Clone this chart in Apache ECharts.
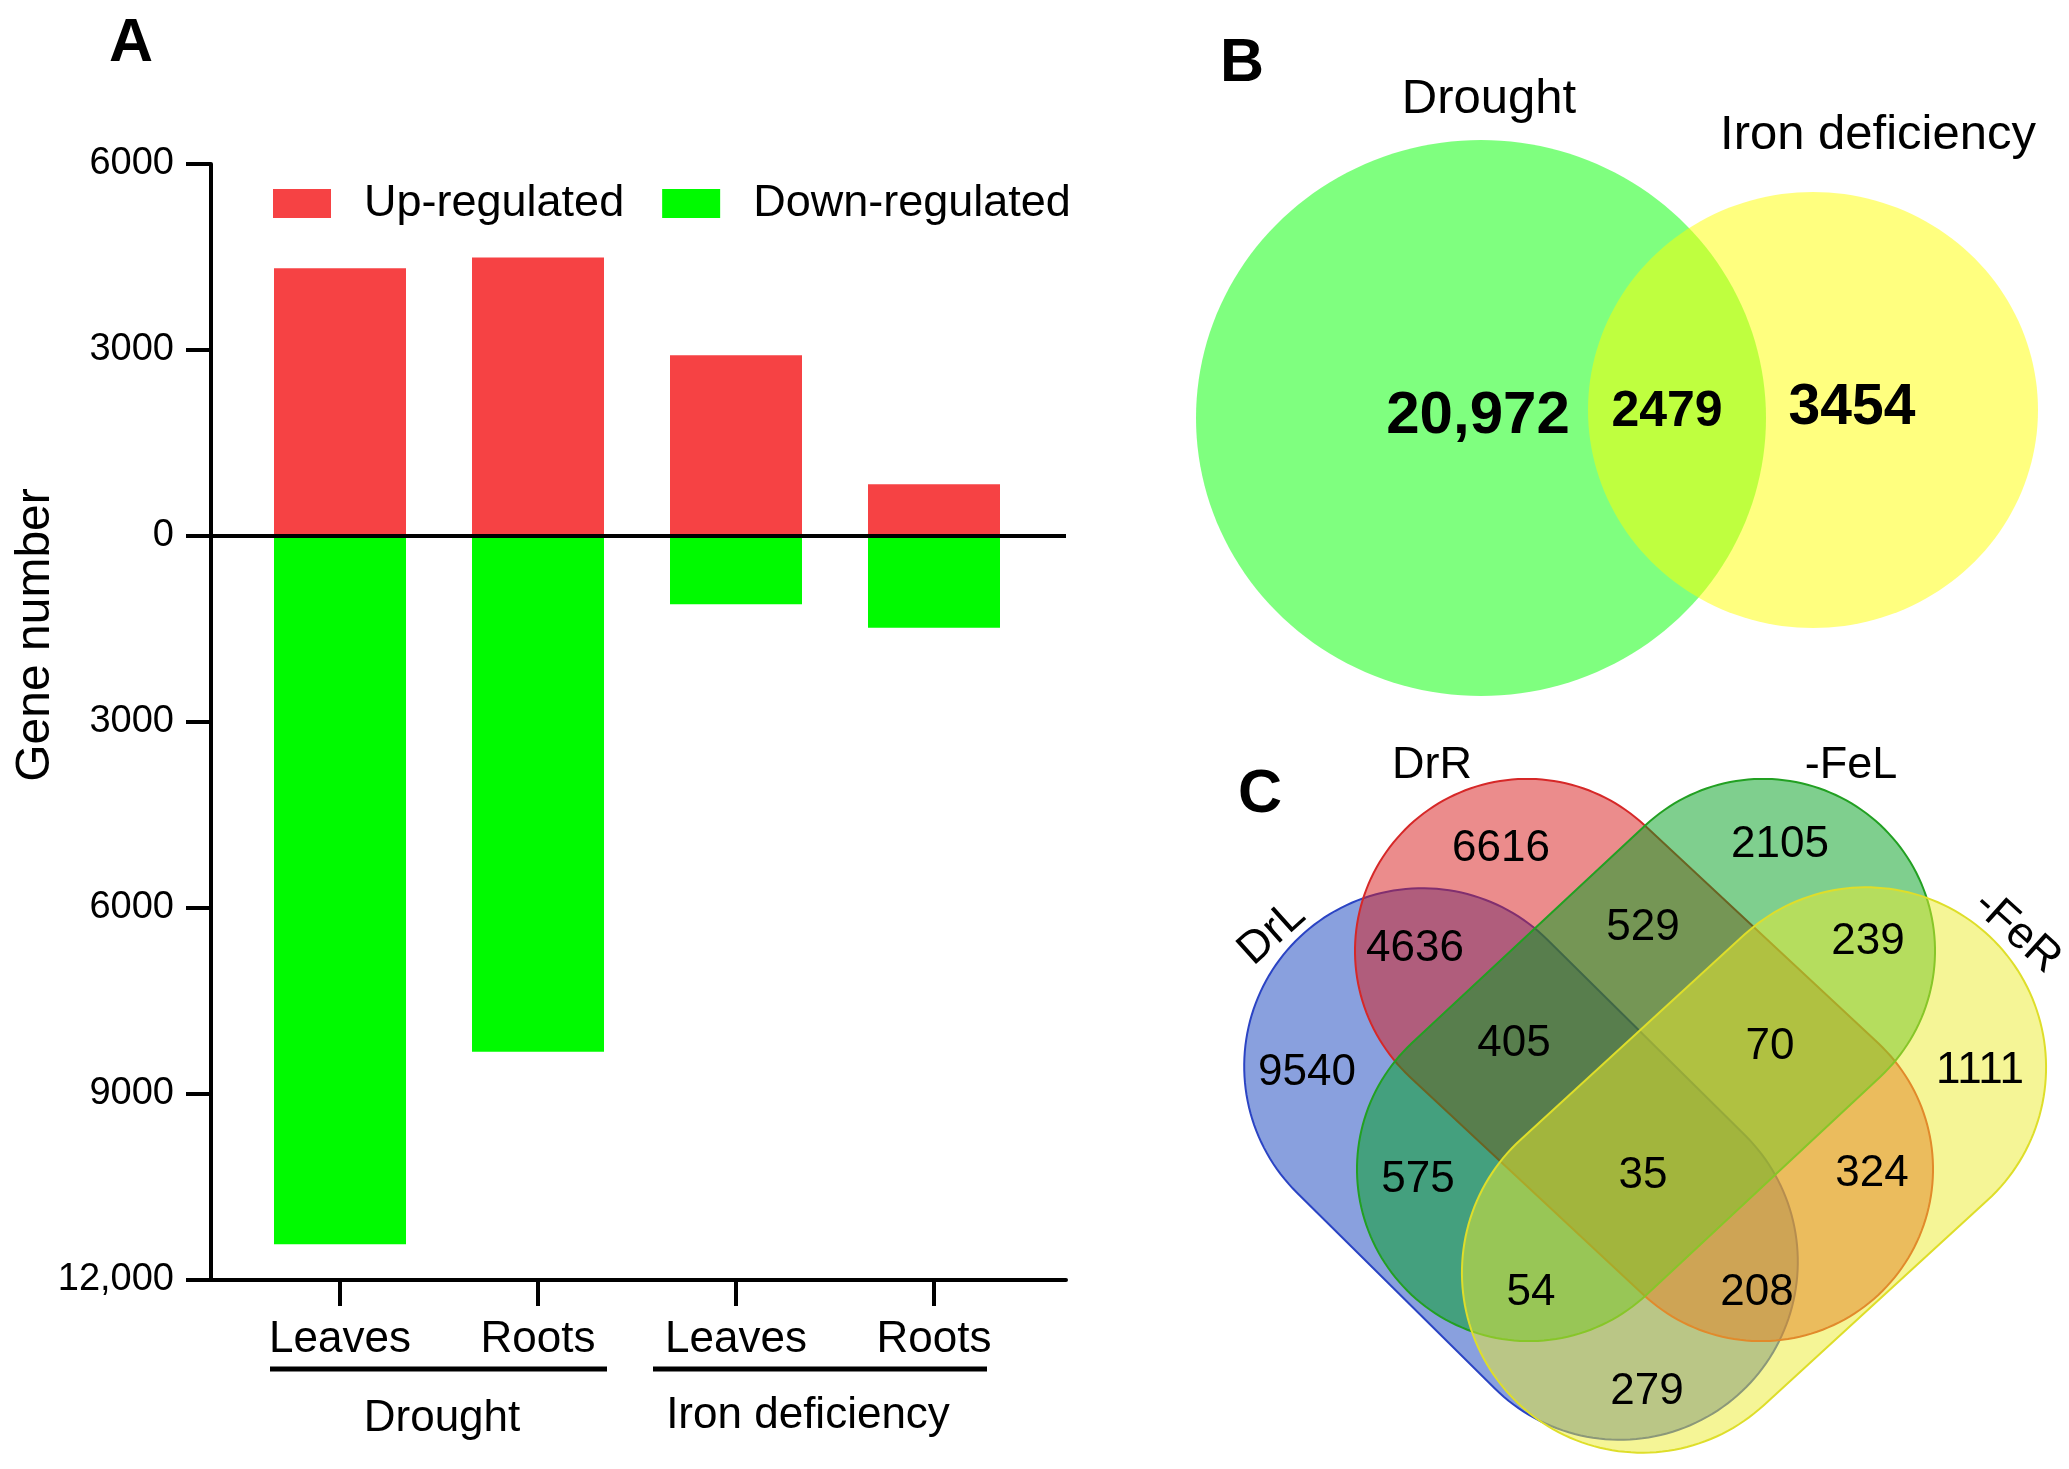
<!DOCTYPE html>
<html><head><meta charset="utf-8">
<script src="https://cdn.jsdelivr.net/npm/echarts@6/dist/echarts.min.js"></script>
<style>html,body{margin:0;padding:0;background:#fff}#c{width:2069px;height:1469px}</style>
</head><body><div id="c"></div>
<script>
// ---------------- data ----------------
const categories = ['Leaves', 'Roots', 'Leaves', 'Roots'];
const groups = ['Drought', 'Iron deficiency'];
const seriesNames = ['Up-regulated', 'Down-regulated'];
const upRegulated = [4320, 4490, 2915, 835];
const downRegulated = [-11425, -8320, -1100, -1480];
const yAxisName = 'Gene number';

const vennBSets = ['Drought', 'Iron deficiency'];
const vennBCounts = [20972, 2479, 3454];          // Drought only, both, Iron only

const vennCSets = ['DrL', 'DrR', '-FeL', '-FeR'];
const vennCCounts = [6616, 2105, 4636, 529, 239, 9540, 405, 70, 1111, 575, 35, 324, 54, 208, 279];

// ---------------- layout (positions / styles) ----------------
const FONT = "'Liberation Sans', Arial, Helvetica, sans-serif";
const vennBShapes = [
  { cx: 1481, cy: 418, rx: 285, ry: 278, fill: 'rgba(0,255,0,0.5)' },
  { cx: 1813, cy: 410, rx: 225, ry: 218, fill: 'rgba(255,255,0,0.5)' }
];
const vennBSetPos = [[1489, 99], [1878, 135]];
const vennBCountPos = [[1478, 416], [1667, 412], [1852, 408]];
const vennBCountSize = [60, 50, 57];

const vennCShapes = [
  { cx: 1521, cy: 1164, ang: 44.7, d: 139, r: 178, fill: 'rgba(20,65,190,0.5)', stroke: '#2b44c4' },
  { cx: 1644, cy: 1060, ang: 43, d: 160, r: 172, fill: 'rgba(215,25,25,0.5)', stroke: '#d62828' },
  { cx: 1646, cy: 1060, ang: 137, d: 160, r: 172, fill: 'rgba(0,160,30,0.5)', stroke: '#22a022' },
  { cx: 1754, cy: 1170, ang: 137.5, d: 152, r: 180, fill: 'rgba(235,235,45,0.5)', stroke: '#dede2a' }
];
const vennCSetPos = [[1272, 933, 42], [1432, 766, 0], [1851, 766, 0], [2017, 932, -42]];
const vennCCountPos = [[1501, 849], [1780, 845], [1415, 949], [1643, 928], [1868, 942],
  [1307, 1073], [1514, 1044], [1770, 1047], [1980, 1071], [1418, 1180], [1643, 1176],
  [1872, 1174], [1531, 1293], [1757, 1293], [1647, 1392]];

function fmt(n) { return Math.abs(n) >= 10000 ? Math.abs(n).toLocaleString('en-US') : String(Math.abs(n)); }

function ellipsePts(s, api) {
  const pts = [];
  for (let i = 0; i < 180; i++) {
    const t = i / 180 * Math.PI * 2;
    pts.push(api.coord([s.cx + s.rx * Math.cos(t), s.cy + s.ry * Math.sin(t)]));
  }
  return pts;
}
function stadiumPts(s, api) {
  const a = s.ang * Math.PI / 180;
  const ux = Math.cos(a), uy = Math.sin(a);
  const c1 = [s.cx - s.d * ux, s.cy - s.d * uy], c2 = [s.cx + s.d * ux, s.cy + s.d * uy];
  const pts = [];
  const N = 90;
  for (let i = 0; i <= N; i++) {
    const p = a - Math.PI / 2 + Math.PI * i / N;
    pts.push(api.coord([c2[0] + s.r * Math.cos(p), c2[1] + s.r * Math.sin(p)]));
  }
  for (let i = 0; i <= N; i++) {
    const p = a + Math.PI / 2 + Math.PI * i / N;
    pts.push(api.coord([c1[0] + s.r * Math.cos(p), c1[1] + s.r * Math.sin(p)]));
  }
  return pts;
}

const labelSeries = (name, data, label) => ({
  name, type: 'scatter', xAxisIndex: 2, yAxisIndex: 2, symbolSize: 0, silent: true, z: 10,
  itemStyle: { opacity: 1 }, data,
  label: Object.assign({ show: true, position: 'inside', color: '#000', opacity: 1, fontFamily: FONT,
    textBorderWidth: 0 }, label)
});

const chart = echarts.init(document.getElementById('c'), null, { renderer: 'canvas' });
const option = {
  backgroundColor: '#fff',
  animation: false,
  textStyle: { fontFamily: FONT },
  legend: {
    data: seriesNames, left: 268, top: 176, itemWidth: 58, itemHeight: 29, itemGap: 38,
    icon: 'rect', selectedMode: false,
    textStyle: { fontSize: 45, color: '#000', fontFamily: FONT, padding: [4, 0, 0, 28] }
  },
  grid: [
    { left: 211, top: 164, width: 855, height: 1116 },
    { left: 241, top: 164, width: 792, height: 1116 },
    { left: 0, top: 0, width: 2069, height: 1469 }
  ],
  xAxis: [
    { type: 'value', gridIndex: 0, min: 0, max: 1, position: 'bottom',
      axisLine: { show: true, onZero: false, lineStyle: { color: '#000', width: 4 } },
      axisTick: { show: false }, axisLabel: { show: false }, splitLine: { show: false } },
    { type: 'category', gridIndex: 1, data: categories, position: 'bottom',
      axisLine: { show: false, onZero: false },
      axisTick: { show: true, alignWithLabel: true, length: 26, lineStyle: { color: '#000', width: 4 } },
      axisLabel: { fontSize: 44, margin: 38, color: '#000', fontFamily: FONT } },
    { type: 'value', gridIndex: 2, min: 0, max: 2069, show: false }
  ],
  yAxis: [
    { type: 'value', gridIndex: 0, min: -12000, max: 6000, interval: 3000,
      axisLine: { show: true, lineStyle: { color: '#000', width: 4 } },
      axisTick: { show: true, length: 25, lineStyle: { color: '#000', width: 4 } },
      axisLabel: { formatter: v => fmt(v), fontSize: 38, margin: 37, color: '#000', fontFamily: FONT },
      splitLine: { show: false } },
    { type: 'value', gridIndex: 1, min: -12000, max: 6000, show: false },
    { type: 'value', gridIndex: 2, min: 0, max: 1469, inverse: true, show: false }
  ],
  series: [
    { name: seriesNames[0], type: 'bar', xAxisIndex: 1, yAxisIndex: 1, data: upRegulated,
      barWidth: 132, barGap: '-100%', itemStyle: { color: '#f64244' } },
    { name: seriesNames[1], type: 'bar', xAxisIndex: 1, yAxisIndex: 1, data: downRegulated,
      barWidth: 132, barGap: '-100%', itemStyle: { color: '#00fa00' } },
    { name: 'zero', type: 'line', xAxisIndex: 0, yAxisIndex: 0, data: [[0, 0], [1, 0]],
      symbol: 'none', silent: true, z: 5, lineStyle: { color: '#000', width: 4 } },
    { name: 'vennB', type: 'custom', xAxisIndex: 2, yAxisIndex: 2, clip: false, silent: true,
      data: vennBShapes.map(s => [s.cx, s.cy]),
      renderItem: (params, api) => ({
        type: 'polygon', shape: { points: ellipsePts(vennBShapes[params.dataIndex], api) },
        style: { fill: vennBShapes[params.dataIndex].fill, stroke: null }
      }) },
    { name: 'vennC', type: 'custom', xAxisIndex: 2, yAxisIndex: 2, clip: false, silent: true,
      data: vennCShapes.map(s => [s.cx, s.cy]),
      renderItem: (params, api) => {
        const s = vennCShapes[params.dataIndex];
        return { type: 'polygon', shape: { points: stadiumPts(s, api) },
          style: { fill: s.fill, stroke: s.stroke, lineWidth: 2 } };
      } },
    labelSeries('vennBSetLabels',
      vennBSets.map((t, i) => ({ value: vennBSetPos[i], label: { formatter: t } })),
      { fontSize: 49 }),
    labelSeries('vennBCounts',
      vennBCounts.map((n, i) => ({ value: vennBCountPos[i], label: { formatter: fmt(n), fontSize: vennBCountSize[i] } })),
      { fontWeight: 'bold' }),
    labelSeries('vennCSetLabels',
      vennCSets.map((t, i) => ({ value: vennCSetPos[i].slice(0, 2), label: { formatter: t, rotate: vennCSetPos[i][2] } })),
      { fontSize: 45 }),
    labelSeries('vennCCounts',
      vennCCounts.map((n, i) => ({ value: vennCCountPos[i], label: { formatter: fmt(n) } })),
      { fontSize: 44 })
  ],
  graphic: [
    { type: 'text', x: 131, y: 44, style: { text: 'A', fontSize: 61, fontWeight: 'bold', fill: '#000', align: 'center', verticalAlign: 'middle', fontFamily: FONT } },
    { type: 'text', x: 1242, y: 64, style: { text: 'B', fontSize: 61, fontWeight: 'bold', fill: '#000', align: 'center', verticalAlign: 'middle', fontFamily: FONT } },
    { type: 'text', x: 1260, y: 795, style: { text: 'C', fontSize: 61, fontWeight: 'bold', fill: '#000', align: 'center', verticalAlign: 'middle', fontFamily: FONT } },
    { type: 'text', x: 36, y: 635, rotation: Math.PI / 2, style: { text: yAxisName, fontSize: 48, fill: '#000', align: 'center', verticalAlign: 'middle', fontFamily: FONT } },
    { type: 'line', shape: { x1: 270, y1: 1369, x2: 607, y2: 1369 }, style: { stroke: '#000', lineWidth: 5 } },
    { type: 'line', shape: { x1: 653, y1: 1369, x2: 987, y2: 1369 }, style: { stroke: '#000', lineWidth: 5 } },
    { type: 'text', x: 442, y: 1419, style: { text: groups[0], fontSize: 44, fill: '#000', align: 'center', verticalAlign: 'middle', fontFamily: FONT } },
    { type: 'text', x: 808, y: 1416, style: { text: groups[1], fontSize: 44, fill: '#000', align: 'center', verticalAlign: 'middle', fontFamily: FONT } }
  ]
};
chart.setOption(option);
</script></body></html>
